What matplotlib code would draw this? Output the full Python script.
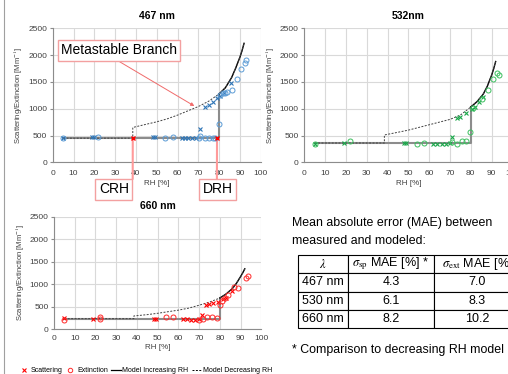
import matplotlib
matplotlib.use('Agg')
import matplotlib.pyplot as plt
from matplotlib.lines import Line2D

plt.rcParams['font.family'] = ['Liberation Sans', 'DejaVu Sans']
plt.rcParams['mathtext.fontset'] = 'stix'

W, H = 508, 374

# Modelo: ramo de RH crescente / decrescente
crh = 38.5
drh = 80
model_rh = [38.5, 45, 50, 55, 60, 65, 70, 75, 80, 83, 86, 88, 90, 91, 92]
flat_467, flat_532, flat_660 = 450, 360, 230
model_467 = [650, 710, 755, 810, 880, 960, 1040, 1140, 1275, 1390, 1580, 1760, 1960, 2080, 2220]
model_532 = [510, 560, 600, 650, 700, 750, 800, 880, 1030, 1130, 1270, 1420, 1620, 1740, 1880]
model_660 = [290, 320, 350, 385, 420, 465, 530, 600, 690, 780, 900, 1020, 1170, 1250, 1340]

# Medidas 467 nm
sca_rh_467 = [5, 19, 20, 48, 49, 62, 63.5, 65, 67, 69, 71, 73, 75, 77, 79, 80.5, 82.5, 85.7]
sca_467 = [460, 480, 470, 465, 465, 455, 455, 450, 445, 445, 615, 1040, 1070, 1130, 1195, 1240, 1290, 1485]
ext_rh_467 = [5, 22, 54, 58, 70.5, 71, 73, 75, 77, 78, 80, 80.5, 81.7, 83, 84, 86, 88.5, 90.5, 92.5, 93]
ext_467 = [460, 465, 455, 480, 450, 490, 450, 445, 450, 455, 709, 1250, 1287, 1300, 1320, 1350, 1554, 1735, 1850, 1910]

# Medidas 532 nm
sca_rh_532 = [5, 19, 48, 49, 62, 64, 66, 68, 70, 71, 73.6, 75, 77.7, 80.5, 82, 83.8, 86]
sca_532 = [350, 360, 355, 355, 350, 350, 350, 350, 355, 466, 820, 851, 925, 990, 1037, 1119, 1213]
ext_rh_532 = [5, 22, 54, 57.5, 71, 73.3, 75.7, 77.8, 79.7, 81.3, 85.3, 88.5, 90.6, 92.8, 93.5]
ext_532 = [350, 390, 350, 366, 380, 341, 403, 403, 571, 1007, 1175, 1349, 1548, 1660, 1629]

# Medidas 660 nm
sca_rh_660 = [5, 19, 48, 49, 62, 64, 66, 68, 70, 71.2, 73.3, 74.9, 76.8, 79, 81.6, 83, 86]
sca_660 = [250, 230, 230, 230, 220, 215, 210, 210, 215, 312, 534, 557, 572, 610, 661, 700, 850]
ext_rh_660 = [5, 22, 22, 54, 57.5, 70, 72, 73.6, 76, 78.4, 80, 81, 82.4, 84, 86.8, 88.9, 92.6, 93.3]
ext_660 = [210, 260, 220, 260, 260, 200, 216, 274, 260, 238, 534, 620, 697, 757, 928, 906, 1128, 1180]

# Tabela MAE
tab_header = [r'$\lambda$', r'$\sigma_{\mathrm{sp}}$ MAE [%] *', r'$\sigma_{\mathrm{ext}}$ MAE [%]']
tab_lambda = ['467 nm', '530 nm', '660 nm']
tab_sp = ['4.3', '6.1', '8.2']
tab_ext = ['7.0', '8.3', '10.2']


def px_axes(x0, y0, x1, y1):
    # converte caixa em pixels (origem no topo) para fração da figura
    return [x0 / W, 1 - y1 / H, (x1 - x0) / W, (y1 - y0) / H]


def draw_panel(ax, title, flat, model, srh, sval, erh, evals, csca, cext, title_pad, xpad):
    up = [v for r, v in zip(model_rh, model) if r >= drh]
    up_rh = [r for r in model_rh if r >= drh]
    ax.plot([5, drh, drh], [flat, flat, up[0]], color='#8c8c8c', lw=1.5, zorder=2)
    ax.plot(up_rh, up, color='black', lw=1.0, zorder=2)
    ax.plot([5, crh] + model_rh, [flat, flat] + model, color='#404040', lw=0.7,
            dashes=(2, 1.5), zorder=3)
    ax.plot(srh, sval, ls='none', marker='x', ms=3.4, mew=0.8, color=csca, zorder=4)
    ax.plot(erh, evals, ls='none', marker='o', ms=3.6, mew=0.7, mfc='none', color=cext, zorder=4)
    ax.set_xlim(0, 100)
    ax.set_ylim(0, 2500)
    ax.set_xticks(range(0, 101, 10))
    ax.set_yticks(range(0, 2501, 500))
    ax.grid(True, color='#d9d9d9', lw=0.8)
    ax.set_axisbelow(True)
    for s in ['top', 'right']:
        ax.spines[s].set_visible(False)
    for s in ['left', 'bottom']:
        ax.spines[s].set_color('#8c8c8c')
        ax.spines[s].set_linewidth(0.8)
    ax.tick_params(axis='y', length=2.5, color='#8c8c8c', labelsize=6, pad=1.5, colors='#404040')
    ax.tick_params(axis='x', length=0, labelsize=6, pad=xpad, colors='#404040')
    ax.set_title(title, fontsize=7.5, fontweight='bold', pad=title_pad)
    ax.set_xlabel('RH [%]', fontsize=5.8, labelpad=2, color='#404040')
    ax.set_ylabel(r'Scattering/Extinction [Mm$^{-1}$]', fontsize=5.5, labelpad=2, color='#404040')


fig = plt.figure(figsize=(W / 100, H / 100), dpi=100)

ax1 = fig.add_axes(px_axes(52.7, 28.3, 260.7, 162.3))
ax2 = fig.add_axes(px_axes(304.3, 28.3, 512.3, 162.3))
ax3 = fig.add_axes(px_axes(54, 216.7, 261.4, 329))

draw_panel(ax1, '467 nm', flat_467, model_467, sca_rh_467, sca_467, ext_rh_467, ext_467,
           '#2e75b6', '#5b9bd5', 6.8, 5.5)
draw_panel(ax2, '532nm', flat_532, model_532, sca_rh_532, sca_532, ext_rh_532, ext_532,
           '#1aa84a', '#3cbf5f', 6.8, 5.5)
draw_panel(ax3, '660 nm', flat_660, model_660, sca_rh_660, sca_660, ext_rh_660, ext_660,
           '#ff0000', '#ff2a2a', 5.7, 4.0)

# Anotações no painel 467 nm
box_kw = dict(boxstyle='square,pad=0.25', fc='white', ec='#f3a0a0', lw=1.0)
fig.text(119 / W, 1 - 50.5 / H, 'Metastable Branch', fontsize=10, ha='center', va='center', bbox=box_kw)
ax1.annotate('', xy=(68.1, 1050), xytext=(116.7 / W, 1 - 60 / H), textcoords='figure fraction',
             arrowprops=dict(arrowstyle='-|>', color='#f06a6a', lw=0.7, mutation_scale=5,
                             shrinkA=0, shrinkB=0))
ax1.annotate('', xy=(crh, flat_467), xytext=(132.7 / W, 1 - 179 / H), textcoords='figure fraction',
             arrowprops=dict(arrowstyle='-', color='#ff9a9a', lw=1.5, shrinkA=0, shrinkB=0))
ax1.annotate('', xy=(79, flat_467), xytext=(216.9 / W, 1 - 179 / H), textcoords='figure fraction',
             arrowprops=dict(arrowstyle='-', color='#ff9a9a', lw=1.5, shrinkA=0, shrinkB=0))
ax1.plot([crh, 79], [flat_467, flat_467], ls='none', marker='x', ms=3, mew=1, color='red', zorder=5)
fig.text(113.9 / W, 1 - 189.2 / H, 'CRH', fontsize=10, ha='center', va='center', bbox=box_kw)
fig.text(217.5 / W, 1 - 189.2 / H, 'DRH', fontsize=10, ha='center', va='center', bbox=box_kw)

# Texto e tabela MAE
fig.text(291.7 / W, 1 - 222.7 / H, 'Mean absolute error (MAE) between', fontsize=8.9, va='center')
fig.text(291.7 / W, 1 - 240.7 / H, 'measured and modeled:', fontsize=8.9, va='center')
fig.text(291.7 / W, 1 - 350 / H, '* Comparison to decreasing RH model', fontsize=8.9, va='center')

axt = fig.add_axes(px_axes(298, 255, 520, 328))
axt.axis('off')
rows = [[a, b, c] for a, b, c in zip(tab_lambda, tab_sp, tab_ext)]
tbl = axt.table(cellText=rows, colLabels=tab_header, bbox=[0, 0, 1, 1],
                colWidths=[49.7, 86.3, 86], cellLoc='center')
tbl.auto_set_font_size(False)
tbl.set_fontsize(9)
for (r, c), cell in tbl.get_celld().items():
    cell.set_edgecolor('black')
    cell.set_linewidth(0.8)

# Legenda comum
handles = [Line2D([], [], ls='none', marker='x', ms=3, mew=0.8, color='#ff0000'),
           Line2D([], [], ls='none', marker='o', ms=3.2, mew=0.7, mfc='none', color='#ff2a2a'),
           Line2D([], [], color='black', lw=0.9),
           Line2D([], [], color='black', lw=0.7, dashes=(2, 1.5))]
labels = ['Scattering', 'Extinction', 'Model Increasing RH', 'Model Decreasing RH']
fig.legend(handles, labels, loc='center left', bbox_to_anchor=(19 / W, 1 - 370.5 / H), ncol=4,
           frameon=False, fontsize=5, handlelength=1.4, handletextpad=0.25, columnspacing=0.45,
           borderpad=0, borderaxespad=0)

# borda esquerda
fig.add_artist(Line2D([4 / W, 4 / W], [0, 1], color='#a0a0a0', lw=0.8))

plt.savefig('out.png', dpi=100)
